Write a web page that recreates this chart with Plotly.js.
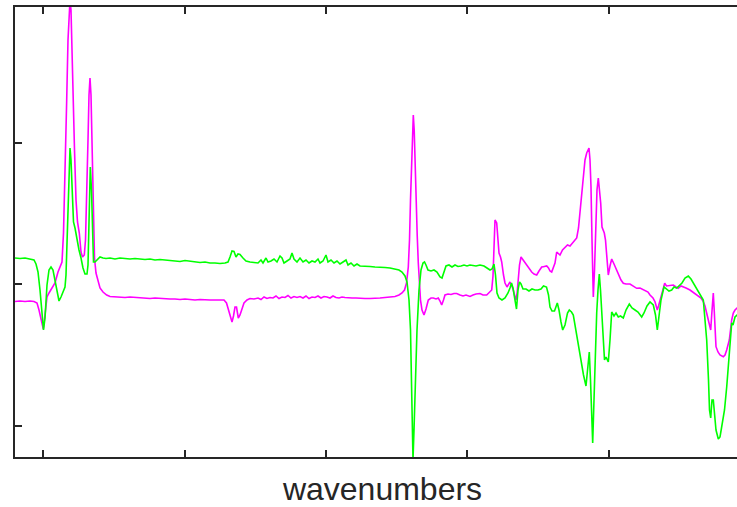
<!DOCTYPE html>
<html>
<head>
<meta charset="utf-8">
<script src="https://cdn.plot.ly/plotly-3.0.1.min.js"></script>
<style>
html,body{margin:0;padding:0;overflow:hidden;background:#fff;}
#chart{width:760px;height:507px;}
</style>
</head>
<body>
<div id="chart"></div>
<script>
// wavenumber axis positions (arbitrary units) and absorbance-like values (arbitrary units)
const greenX = [15,20,25,30,34,36,38,40,42,43.5,45,47,49,51,53,55,57,59,61,63,65,66,67,68,69,70,71,72,73.5,75,77,79,81,83,85,87,88,89,90.3,91.5,92.5,93.5,95,97,100,103,106,110,115,120,125,130,135,140,145,150,155,160,165,170,175,180,185,190,195,200,205,210,215,220,225,228,230,232,234,236,238,240,243,246,250,254,258,261,263,266,268,271,274,277,280,282,284,287,290,292,294,297,300,303,306,309,312,315,318,320,323,326,328,331,334,337,340,343,346,348,351,354,357,360,365,370,375,380,385,390,395,399,402,405,407,409,410.5,412,413,414,415.5,417,419,421,423,424.5,426,428,431,434,437,440,442,444,446,449,452,455,458,461,464,467,470,473,476,480,484,487,490,492,494,495.5,497,499,502,505,508,510,511.5,513,515,516.5,518,519.5,521,523,526,529,532,535,538,541,543.5,546.5,548.5,550,552,554.5,557.3,559,561,562.7,565,567.5,569.3,571.5,573.3,575,577,578.5,581,583.5,586,587.5,589.3,590.5,591.5,592.7,594,595.5,596.7,598,599.3,600.5,601.7,603,604.5,606,608.3,610,611.7,614,616,618.3,620.5,623.3,626,629.3,632,635,638,641.7,644,647,650,653.3,655.5,657.3,659,661,664,667,669,671.7,674,676.7,679,682,685,688.3,691,694,697,699,701,703.3,705,706.7,708.5,709.5,710.7,712,713.3,714.3,716,718.3,720,721.5,722.7,724.5,726.7,728,729.3,730.5,731.7,733,735,737,740];
const greenY = [26,25.5,26,25,24,20,12,-6,-34,-46,-34,-1,14,17,14,4,-9,-17,-13,-8,-3,9,44,84,124,136,124,89,62,56,44,34,26,16,10,10,19,64,117,94,44,22,22,24,27,26,25.5,26,25,26,25.5,25,25.5,25,24.5,25,24,24.5,24,23.5,23,22.5,23.5,23,22,21.5,22,21,21,20.5,21,22,27,33,32.5,27,30,29.5,26,23,22,21.5,21,24,21,26,22,23,25,22,28,26,21,23,25,31,25,22,26,22,24,21,23,22,25,21,23,29,22,24,21,23,20,22,24,19,21,18,20,18,18,17.5,17,17,16.5,16,15,14,12,8,2,-16,-46,-116,-176,-146,-96,-46,-6,14,21,22,19,14,13,14,12,7,6,12,18,19,17,19,17.5,18,19,18,19,18.5,18,19,18,16,14,15,20,9,-9,-14,-16,-14,-9,-4,1,-4,-18,-25,-6,2,0,-5,-5,-7,-5,-6,-6,-5,-2,-3,-11,-23,-27,-27,-19,-26,-38,-46,-41,-29,-26,-28,-31,-41,-56,-66,-78,-91,-102,-86,-68,-96,-136,-159,-116,-61,-29,-6,10,-6,-29,-61,-76,-73,-78,-56,-28,-32,-29,-33,-32,-34,-26,-20,-24,-26,-28,-33,-29,-22,-18,-21,-31,-46,-34,-16,-3,-5,-7,-6,-3,-4,-2,1,6,8,5,0,-5,-9,-13,-16,-36,-56,-96,-126,-134,-116,-116,-131,-146,-155,-153,-144,-136,-126,-103,-86,-69,-51,-39,-41,-33,-31,-29];

const magentaX = [15,20,25,30,34,37,39,41,43.3,45,47,49,52,55,58,60,62,63.5,65,66.7,68,69.3,70,71,72,73.3,74.5,76,77.5,79.3,81,82.5,84.3,85.5,86.7,88,89,90,91,91.7,92.5,93.3,94.5,96,98,100,103,106.7,110,115,120,125,130,135,140,145,150,155,160,165,170,175,180,185,190,195,200,205,210,215,220,224,226.5,228.5,230.5,232,233.5,235,236.5,238.3,240,242,244,247,250,254,258,261,264,267,270,273,276,279,282,285,288,291,294,297,300,303,306,309,312,315,318,321,324,327,330,333,336,339,342,345,348,352,356,360,365,370,375,380,385,390,395,399,402,404.5,406.5,408.3,409.5,410.5,411.5,412.5,413.3,414.2,415,416,417.2,418.3,419.3,420.5,422,424,426,428.3,431,433.3,436,438.3,440,441.7,443.5,445,448,451,454,456.7,460,463,466,470,473,476,480,483,486.7,489,491.7,493,494,495,496.7,498,499,500.5,501.7,503.5,505,507,508.5,510,511.5,513.3,515,516,517.2,518.3,519.5,521,523,525,528,531.7,534,536.7,539,541.7,543.3,546.7,548.5,550,551.7,553.3,555,556.7,558,560,562.5,565,567.5,570,573,576.7,578.5,580,581.5,583.3,585,586.7,588,589,590,591,592,593.3,594.5,595.7,597,598.3,599.5,600.7,602,603.2,604.3,605.5,606.7,607.5,608.3,610,611.7,614,616.7,619,621,623.3,626,630,633,636.7,640,645,648,650,653,655,656.3,657.3,658.5,660,662,664.7,666.5,668.3,671,673.3,676,678.3,681,683.3,686,690,694,698.3,701,703.3,705,706.7,708.5,710,710.7,711.7,712.5,713.3,714.2,715,716,718,720,723.3,725,726.7,728,729.3,730.5,731.7,733.3,735,737,740];
const magentaY = [-17.5,-17,-17.5,-17,-17.5,-19,-26,-36,-45,-31,-13,-9,-4,1,12,18,22,51,104,184,244,279,284,274,224,184,134,84,62,51,32,27,29,44,84,144,189,206,189,151,94,51,26,11,2,-4,-8,-11,-12.5,-13,-13,-13.5,-13,-13.5,-14,-14,-14.5,-14,-14.5,-15,-15,-15,-15.5,-15,-15.5,-16,-15.5,-16,-16,-16,-16,-16,-19,-26,-34,-38,-32,-23,-23,-34,-31,-24,-19,-16,-14.5,-15,-14,-15.5,-13,-14.5,-13.5,-14,-12,-14.5,-13,-13.5,-11.5,-14,-12.5,-13.5,-12.5,-14,-12,-14.5,-13,-13.5,-12,-14,-12.5,-13,-14,-12,-13.5,-14,-13,-13.5,-14,-14,-14,-14.5,-14.5,-14.5,-14.5,-14,-13.5,-13,-12.5,-11,-9,-6,1,17,44,84,124,159,169,154,119,87,49,21,1,-16,-26,-31,-25,-16,-14,-14,-15,-14,-17,-21,-16,-11,-10,-10.5,-9.5,-9.5,-11,-12,-11,-12.5,-11,-10,-9.5,-11,-11,-9,-6,8,44,64,61,44,31,27,22,9,1,-3,0,2,-1,-6,-13,-16,-8,4,19,27,24,21,17,12,10,9,13,17,17.3,18,16,13,12,17,21,32,31,29,34,37,39,38,42,46,56,71,89,111,124,131,134,136,124,97,44,-13,14,57,94,106,94,81,57,54,51,44,31,19,9,18,25,20,14,8,4,0.7,0,0,-2,-4.3,-4,-6,-8,-11,-14,-17.7,-22,-26,-22,-16,-8,0.7,-2,-1.7,-1,-1,-3,-4.3,-2,-2.7,-4,-6,-9,-12.7,-14,-17.7,-22,-29.3,-36,-44,-46,-31,-16,-9,-26,-46,-62.7,-68,-71,-72.7,-71,-66,-61,-56,-46,-36,-29,-26,-24,-22];

const xTicks = [43,185,326,467,609];
const yTicks = [141,0,-142];

const axisColor = '#262626';
const traces = [
  {x: magentaX, y: magentaY, type:'scatter', mode:'lines', line:{color:'#ff00ff', width:1.6}, hoverinfo:'skip'},
  {x: greenX, y: greenY, type:'scatter', mode:'lines', line:{color:'#00ff00', width:1.6}, hoverinfo:'skip'}
];
const layout = {
  width:760, height:507,
  margin:{l:15, r:10, t:7, b:50, pad:0},
  paper_bgcolor:'#ffffff', plot_bgcolor:'#ffffff',
  showlegend:false,
  font:{family:'"Liberation Sans", Arial, sans-serif', color:axisColor},
  xaxis:{range:[15,750], showgrid:false, zeroline:false, showline:true, linecolor:axisColor, linewidth:2,
         mirror:'ticks', ticks:'inside', ticklen:7, tickwidth:2, tickcolor:axisColor,
         tickvals:xTicks, showticklabels:false,
         title:{text:'wavenumbers', font:{size:32, color:axisColor}, standoff:25}},
  yaxis:{range:[-173,277], showgrid:false, zeroline:false, showline:true, linecolor:axisColor, linewidth:2,
         mirror:'ticks', ticks:'inside', ticklen:7, tickwidth:2, tickcolor:axisColor,
         tickvals:yTicks, showticklabels:false}
};
Plotly.newPlot('chart', traces, layout, {staticPlot:true, displayModeBar:false});
</script>
</body>
</html>
